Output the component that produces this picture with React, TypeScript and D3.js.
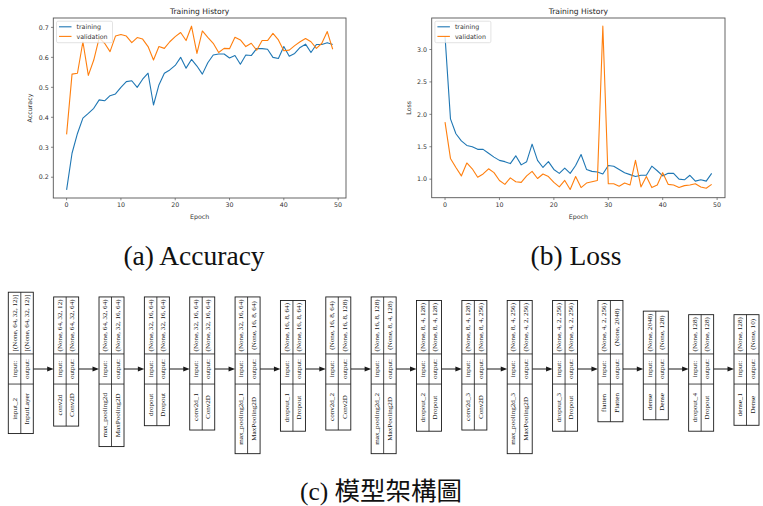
import React from 'react';
import * as d3 from 'd3';

const W = 763;
const H = 506;

const epochTicks = [0, 10, 20, 30, 40, 50];
const accTicks = [0.2, 0.3, 0.4, 0.5, 0.6, 0.7];
const lossTicks = [1.0, 1.5, 2.0, 2.5, 3.0];
const seriesNames = ['training', 'validation'];

const accTraining = [0.158, 0.28, 0.346, 0.397, 0.413, 0.43, 0.458, 0.455, 0.472, 0.478, 0.50, 0.519, 0.522, 0.50, 0.527, 0.547, 0.441, 0.508, 0.547, 0.558, 0.573, 0.60, 0.564, 0.593, 0.571, 0.544, 0.582, 0.608, 0.611, 0.611, 0.598, 0.606, 0.577, 0.608, 0.606, 0.629, 0.629, 0.627, 0.60, 0.596, 0.636, 0.604, 0.613, 0.633, 0.644, 0.616, 0.643, 0.643, 0.649, 0.643];
const accValidation = [0.343, 0.544, 0.547, 0.652, 0.54, 0.591, 0.665, 0.647, 0.619, 0.671, 0.676, 0.671, 0.649, 0.666, 0.661, 0.636, 0.591, 0.636, 0.63, 0.652, 0.669, 0.683, 0.656, 0.704, 0.613, 0.688, 0.667, 0.647, 0.616, 0.63, 0.629, 0.667, 0.658, 0.636, 0.647, 0.624, 0.656, 0.656, 0.68, 0.658, 0.622, 0.624, 0.639, 0.652, 0.663, 0.652, 0.63, 0.647, 0.686, 0.627];
const lossTraining = [3.2, 1.93, 1.70, 1.59, 1.52, 1.50, 1.46, 1.46, 1.40, 1.34, 1.29, 1.27, 1.24, 1.36, 1.22, 1.27, 1.54, 1.29, 1.18, 1.27, 1.15, 1.09, 1.17, 1.09, 1.21, 1.38, 1.15, 1.12, 1.11, 1.08, 1.21, 1.20, 1.15, 1.10, 1.07, 1.04, 1.06, 1.06, 1.20, 1.13, 1.05, 1.09, 1.09, 1.0, 0.99, 1.06, 0.97, 0.99, 0.97, 1.09];
const lossValidation = [1.88, 1.32, 1.18, 1.05, 1.25, 1.16, 1.03, 1.08, 1.16, 1.10, 0.98, 0.92, 1.02, 0.96, 0.95, 1.05, 1.12, 1.01, 1.08, 1.04, 0.95, 0.88, 0.98, 0.84, 1.04, 0.87, 0.94, 0.96, 0.98, 3.36, 0.93, 0.93, 0.89, 0.94, 0.91, 1.29, 0.88, 1.04, 0.87, 0.91, 1.10, 0.92, 0.91, 0.87, 0.90, 0.91, 0.93, 0.88, 0.86, 0.92];

const layerNames = ['input_2', 'conv2d', 'max_pooling2d', 'dropout', 'conv2d_1', 'max_pooling2d_1', 'dropout_1', 'conv2d_2', 'max_pooling2d_2', 'dropout_2', 'conv2d_3', 'max_pooling2d_3', 'dropout_3', 'flatten', 'dense', 'dropout_4', 'dense_1'];
const layerTypes = ['InputLayer', 'Conv2D', 'MaxPooling2D', 'Dropout', 'Conv2D', 'MaxPooling2D', 'Dropout', 'Conv2D', 'MaxPooling2D', 'Dropout', 'Conv2D', 'MaxPooling2D', 'Dropout', 'Flatten', 'Dense', 'Dropout', 'Dense'];
const layerInputs = ['[(None, 64, 32, 12)]', '(None, 64, 32, 12)', '(None, 64, 32, 64)', '(None, 32, 16, 64)', '(None, 32, 16, 64)', '(None, 32, 16, 64)', '(None, 16, 8, 64)', '(None, 16, 8, 64)', '(None, 16, 8, 128)', '(None, 8, 4, 128)', '(None, 8, 4, 128)', '(None, 8, 4, 256)', '(None, 4, 2, 256)', '(None, 4, 2, 256)', '(None, 2048)', '(None, 128)', '(None, 128)'];
const layerOutputs = ['[(None, 64, 32, 12)]', '(None, 64, 32, 64)', '(None, 32, 16, 64)', '(None, 32, 16, 64)', '(None, 32, 16, 64)', '(None, 16, 8, 64)', '(None, 16, 8, 64)', '(None, 16, 8, 128)', '(None, 8, 4, 128)', '(None, 8, 4, 128)', '(None, 8, 4, 256)', '(None, 4, 2, 256)', '(None, 4, 2, 256)', '(None, 2048)', '(None, 128)', '(None, 128)', '(None, 10)'];

const captions = ['(a) Accuracy', '(b) Loss', '(c) 模型架構圖'];

const COLORS = ['#1f77b4', '#ff7f0e'];
const MPL_FONT = '"DejaVu Sans", sans-serif';
const SERIF = '"Liberation Serif", "Times New Roman", serif';

function padDomain(values: number[]): [number, number] {
  const [lo, hi] = d3.extent(values) as [number, number];
  const m = (hi - lo) * 0.05;
  return [lo - m, hi + m];
}

type ChartProps = {
  x0: number; x1: number; y0: number; y1: number;
  train: number[]; val: number[]; yTicks: number[]; ylabel: string; ylabelX: number;
};

function HistoryChart({ x0, x1, y0, y1, train, val, yTicks, ylabel, ylabelX }: ChartProps) {
  const n = train.length;
  const x = d3.scaleLinear().domain(padDomain([0, n - 1])).range([x0, x1]);
  const y = d3.scaleLinear().domain(padDomain([...train, ...val])).range([y1, y0]);
  const line = d3.line<number>().x((_, i) => x(i)).y((d) => y(d));
  const fs = 6.3;
  const tl = 2.3;
  const lx = x0 + 3.2;
  const ly = y0 + 3.2;
  return (
    <g>
      <text x={(x0 + x1) / 2} y={y0 - 4.5} textAnchor="middle" fontFamily={MPL_FONT} fontSize={7.6} fill="#262626">Training History</text>
      {[train, val].map((s, k) => (
        <path key={k} d={line(s) || ''} fill="none" stroke={COLORS[k]} strokeWidth={1.1} strokeLinejoin="round" />
      ))}
      <rect x={x0} y={y0} width={x1 - x0} height={y1 - y0} fill="none" stroke="#555" strokeWidth={0.9} />
      {epochTicks.map((t) => (
        <g key={t}>
          <line x1={x(t)} x2={x(t)} y1={y1} y2={y1 + tl} stroke="#555" strokeWidth={0.7} />
          <text x={x(t)} y={y1 + tl + 2.3 + fs * 0.76} textAnchor="middle" fontFamily={MPL_FONT} fontSize={fs} fill="#333">{t}</text>
        </g>
      ))}
      {yTicks.map((t) => (
        <g key={t}>
          <line x1={x0 - tl} x2={x0} y1={y(t)} y2={y(t)} stroke="#555" strokeWidth={0.7} />
          <text x={x0 - tl - 2.3} y={y(t) + fs * 0.36} textAnchor="end" fontFamily={MPL_FONT} fontSize={fs} fill="#333">{t.toFixed(1)}</text>
        </g>
      ))}
      <text x={(x0 + x1) / 2} y={y1 + 21} textAnchor="middle" fontFamily={MPL_FONT} fontSize={fs} fill="#333">Epoch</text>
      <text transform={`translate(${ylabelX},${(y0 + y1) / 2}) rotate(-90)`} textAnchor="middle" fontFamily={MPL_FONT} fontSize={fs} fill="#333">{ylabel}</text>
      <rect x={lx} y={ly} width={56} height={21.5} rx={1.5} fill="white" fillOpacity={0.8} stroke="#d0d0d0" strokeWidth={0.6} />
      {seriesNames.map((name, k) => {
        const cy = ly + 5.6 + k * 9.6;
        return (
          <g key={name}>
            <line x1={lx + 2.5} x2={lx + 15} y1={cy} y2={cy} stroke={COLORS[k]} strokeWidth={1.1} />
            <text x={lx + 20} y={cy + fs * 0.36} fontFamily={MPL_FONT} fontSize={fs} fill="#333">{name}</text>
          </g>
        );
      })}
    </g>
  );
}

let measureCtx: CanvasRenderingContext2D | null = null;
function textWidth(s: string, fs: number) {
  if (!measureCtx) measureCtx = document.createElement('canvas').getContext('2d');
  if (!measureCtx) return s.length * fs * 0.45;
  measureCtx.font = `${fs}px "Liberation Serif"`;
  return measureCtx.measureText(s).width;
}

function ModelDiagram() {
  const fs = 7.1;
  const arrowY = 369;
  const bw = 25;
  const bx = d3.scaleLinear().domain([0, layerNames.length - 1]).range([8.3, 734]);
  const ioH = Math.max(textWidth('input:', fs), textWidth('output:', fs)) + 10;
  const blocks = layerNames.map((name, i) => {
    const shapeH = Math.max(textWidth(layerInputs[i], fs), textWidth(layerOutputs[i], fs)) + 5;
    const nameH = Math.max(textWidth(name, fs), textWidth(layerTypes[i], fs)) + 18;
    const ioTop = arrowY - ioH / 2;
    const ioBot = arrowY + ioH / 2;
    return { i, x: bx(i), top: ioTop - shapeH, ioTop, ioBot, bot: ioBot + nameH };
  });
  const stroke = '#1a1a1a';
  const rotText = (s: string, cx: number, cy: number, key: string) => (
    <text key={key} transform={`translate(${cx},${cy}) rotate(-90)`} textAnchor="middle" dominantBaseline="central" fontFamily={SERIF} fontSize={fs} fill="#111">{s}</text>
  );
  return (
    <g>
      {blocks.slice(0, -1).map((b) => {
        const xs = b.x + bw;
        const xe = blocks[b.i + 1].x;
        return (
          <g key={'a' + b.i}>
            <line x1={xs} x2={xe - 5} y1={arrowY} y2={arrowY} stroke={stroke} strokeWidth={1} />
            <path d={`M${xe},${arrowY} L${xe - 6.5},${arrowY - 2.6} L${xe - 6.5},${arrowY + 2.6} Z`} fill={stroke} />
          </g>
        );
      })}
      {blocks.map((b) => {
        const c1 = b.x + bw / 4;
        const c2 = b.x + (3 * bw) / 4;
        return (
          <g key={'b' + b.i}>
            <rect x={b.x} y={b.top} width={bw} height={b.bot - b.top} fill="white" stroke={stroke} strokeWidth={0.9} />
            <line x1={b.x + bw / 2} x2={b.x + bw / 2} y1={b.top} y2={b.bot} stroke={stroke} strokeWidth={0.8} />
            <line x1={b.x} x2={b.x + bw} y1={b.ioTop} y2={b.ioTop} stroke={stroke} strokeWidth={0.8} />
            <line x1={b.x} x2={b.x + bw} y1={b.ioBot} y2={b.ioBot} stroke={stroke} strokeWidth={0.8} />
            {rotText(layerInputs[b.i], c1, (b.top + b.ioTop) / 2, 's1')}
            {rotText(layerOutputs[b.i], c2, (b.top + b.ioTop) / 2, 's2')}
            {rotText('input:', c1, arrowY, 'i1')}
            {rotText('output:', c2, arrowY, 'i2')}
            {rotText(layerNames[b.i], c1, (b.ioBot + b.bot) / 2, 'n1')}
            {rotText(layerTypes[b.i], c2, (b.ioBot + b.bot) / 2, 'n2')}
          </g>
        );
      })}
    </g>
  );
}

export default function App() {
  return (
    <svg width={W} height={H} viewBox={`0 0 ${W} ${H}`} style={{ position: 'absolute', left: 0, top: 0, background: 'white' }}>
      <rect width={W} height={H} fill="white" />
      <HistoryChart x0={53.3} x1={346} y0={18} y1={198} train={accTraining} val={accValidation} yTicks={accTicks} ylabel="Accuracy" ylabelX={31.5} />
      <HistoryChart x0={431.7} x1={725} y0={18} y1={197.7} train={lossTraining} val={lossValidation} yTicks={lossTicks} ylabel="Loss" ylabelX={411} />
      <text x={194} y={265} textAnchor="middle" fontFamily={SERIF} fontSize={27.5} fill="#111">{captions[0]}</text>
      <text x={576} y={265} textAnchor="middle" fontFamily={SERIF} fontSize={27.5} fill="#111">{captions[1]}</text>
      <text x={381} y={500} textAnchor="middle" fontFamily={'"Liberation Serif", "Noto Sans CJK TC", serif'} fontSize={25.5} fill="#111">{captions[2]}</text>
      <ModelDiagram />
    </svg>
  );
}
